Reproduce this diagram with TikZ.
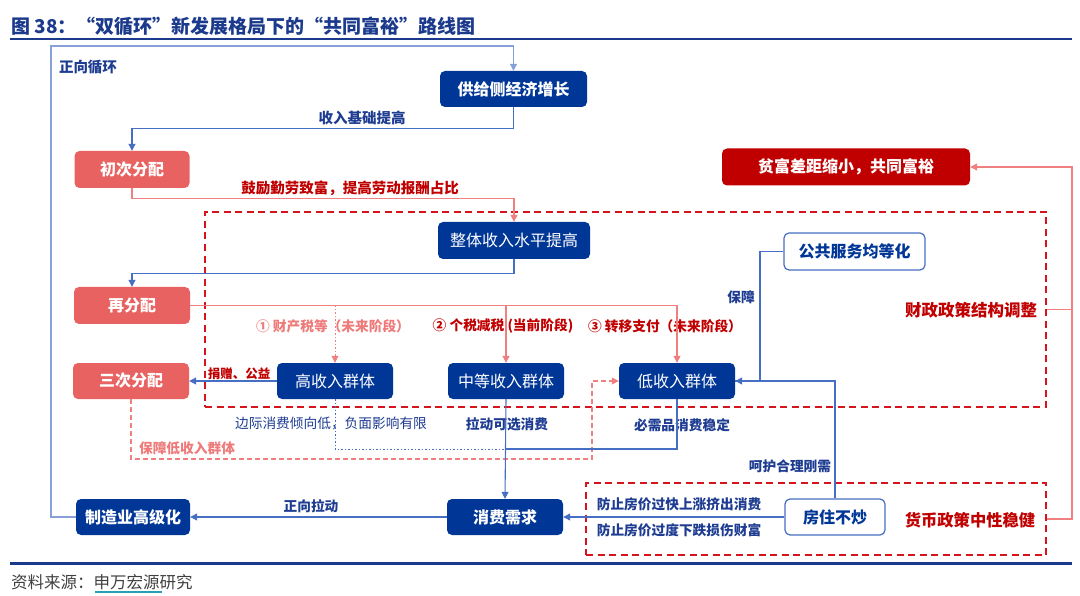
\documentclass[tikz,border=0pt]{standalone}
\usepackage{fontspec}
\setmainfont{Noto Sans CJK SC}
\usetikzlibrary{arrows.meta}
\definecolor{dkblue}{RGB}{0,54,150}
\definecolor{ttlblue}{RGB}{28,58,140}
\definecolor{lblue}{RGB}{30,60,145}
\definecolor{lnblue}{RGB}{70,110,195}
\definecolor{loopblue}{RGB}{135,160,215}
\definecolor{salmonred}{RGB}{232,98,98}
\definecolor{dkred}{RGB}{192,0,0}
\definecolor{cpink}{RGB}{240,128,128}
\definecolor{ltred}{RGB}{238,122,122}
\definecolor{dashred}{RGB}{214,20,30}
\definecolor{srcgrey}{RGB}{64,64,64}
\definecolor{tealc}{RGB}{40,160,180}
\begin{document}
\begin{tikzpicture}[x=1pt,y=-1pt,
  box/.style={rounded corners=5pt, minimum height=36pt, inner sep=0pt, font=\fontsize{16}{18}\selectfont},
  boxb/.style={box, font=\fontsize{16}{18}\selectfont\bfseries},
  bbox/.style={box, fill=dkblue, text=white},
  bboxb/.style={boxb, fill=dkblue, text=white},
  rbox/.style={boxb, fill=salmonred, text=white},
  obox/.style={boxb, draw=lnblue, line width=1.2pt, fill=white, text=dkblue},
  dashbox/.style={draw=dashred, line width=2pt, dash pattern=on 7pt off 4.5pt, inner sep=0pt},
  lab/.style={font=\fontsize{14.5}{16}\selectfont\bfseries, text=lblue, inner sep=0pt},
  slab/.style={font=\fontsize{13.7}{15}\selectfont\bfseries, text=lblue, inner sep=0pt},
  conn/.style={draw=lnblue, line width=1.1pt},
  pconn/.style={draw=cpink, line width=1.1pt},
  fdot/.style={line width=0.9pt, dash pattern=on 1.5pt off 2pt},
  arr/.style={-{Triangle[length=7pt,width=7pt]}}
]
\useasboundingbox (0,0) rectangle (1080,596);

% title and rules
\node[anchor=west, font=\fontsize{19}{22}\selectfont\bfseries, text=ttlblue, inner sep=0pt] (title) at (11,26) {图 38：“双循环”新发展格局下的“共同富裕”路线图};
\draw[ttlblue, line width=2pt] (10,39.5) -- (1072,39.5);
\draw[ttlblue, line width=2.6pt] (10,563.5) -- (1072,563.5);
\node[anchor=west, font=\fontsize{16.5}{18}\selectfont, text=srcgrey, inner sep=0pt] (src) at (11,582) {资料来源：申万宏源研究};
\draw[tealc, line width=1.2pt] (95,592) -- (162,592);

% dashed policy frames
\node[dashbox, minimum width=841pt, minimum height=195pt] (fiscal) at (625.5,309.5) {};
\node[dashbox, minimum width=460pt, minimum height=72pt] (monet) at (816,519) {};

% boxes
\node[bboxb, minimum width=147pt] (supply) at (513.5,89) {供给侧经济增长};
\node[rbox, minimum width=115pt, minimum height=37pt] (first) at (132,169.5) {初次分配};
\node[boxb, fill=dkred, text=white, minimum width=248pt, minimum height=37pt] (goal) at (846,167) {贫富差距缩小，共同富裕};
\node[bbox, minimum width=152pt, minimum height=37pt] (whole) at (514,240.5) {整体收入水平提高};
\node[obox, minimum width=141pt, minimum height=37pt] (pub) at (854.5,251.5) {公共服务均等化};
\node[rbox, minimum width=116pt, minimum height=37pt] (redis) at (132,305.5) {再分配};
\node[rbox, minimum width=116pt] (third) at (131,381) {三次分配};
\node[bbox, minimum width=116pt] (high) at (335,381) {高收入群体};
\node[bbox, minimum width=116pt] (mid) at (506,381) {中等收入群体};
\node[bbox, minimum width=116pt] (low) at (677,381) {低收入群体};
\node[bboxb, minimum width=116pt] (cons) at (505,517) {消费需求};
\node[bboxb, minimum width=114pt] (manu) at (133,517) {制造业高级化};
\node[obox, minimum width=100pt] (house) at (835,517) {房住不炒};

% labels
\node[lab] (lzx) at (88,67) {正向循环};
\node[lab] (lsr) at (362,118) {收入基础提高};
\node[lab, text=dkred] (lgl) at (350,188) {鼓励勤劳致富，提高劳动报酬占比};
\node[font=\fontsize{16.5}{18}\selectfont\bfseries, text=dkred, inner sep=0pt] (lfis) at (971,310) {财政政策结构调整};
\node[font=\fontsize{16.3}{18}\selectfont\bfseries, text=dkred, inner sep=0pt] (lmon) at (970,520) {货币政策中性稳健};
\node[slab] (lbz) at (741,297) {保障};
\node[slab, text=ltred] (l1) at (333,326) {① 财产税等（未来阶段）};
\node[slab, text=dkred] (l2) at (503,326) {② 个税减税 (当前阶段)};
\node[slab, text=dkred] (l3) at (665,326) {③ 转移支付（未来阶段）};
\node[font=\fontsize{12.5}{14}\selectfont\bfseries, text=dkred, inner sep=0pt] (ljz) at (239,374) {捐赠、公益};
\node[slab, font=\fontsize{13.7}{15}\selectfont] (lbj) at (331,423) {边际消费倾向低，负面影响有限};
\node[slab] (lld) at (507,424) {拉动可选消费};
\node[slab] (lbx) at (682,425) {必需品消费稳定};
\node[slab, text=ltred] (lbd) at (187,448) {保障低收入群体};
\node[slab] (lhh) at (790,466) {呵护合理刚需};
\node[slab] (lf1) at (679,504) {防止房价过快上涨挤出消费};
\node[slab] (lf2) at (679,530) {防止房价过度下跌损伤财富};
\node[slab] (lzl) at (311,506) {正向拉动};

% connectors
\coordinate (lc) at (51,46);
\draw[draw=loopblue, line width=1.1pt, arr] (manu.west) -| (lc) -| (supply.north);
\draw[conn, arr] (supply.south) -- ++(0,21) -| (first.north);
\draw[pconn, arr] (first.south) -- ++(0,10) -| (whole.north);
\draw[conn, arr] (whole.south) -- ++(0,14) -| (redis.north);
\draw[pconn, arr] (redis.east) -| (low.north);
\draw[pconn, arr] (redis.east -| mid.north) -- (mid.north);
\draw[pconn, fdot, arr] (redis.east -| high.north) -- (high.north);
\draw[conn, arr] (high.west) -- (third.east);
\coordinate (dj) at (592,459);
\draw[pconn, dash pattern=on 5pt off 3pt, arr] (third.south) |- (dj) |- (low.west);
\coordinate (jn) at (506,449);
\draw[conn, fdot] (high.south) |- (jn);
\draw[conn] (low.south) |- (jn);
\draw[conn, arr] (mid.south) -- (cons.north);
\draw[conn, arr] (cons.west) -- (manu.east);
\draw[conn, arr] (house.west) -- (cons.east);
\coordinate (pj) at (760,251.5);
\draw[conn] (pub.west) -- (pj) |- (low.east);
\draw[conn, arr] (house.north) |- (low.east);
\coordinate (rc) at (1072,167);
\draw[pconn, arr] (monet.east) -| (rc) -- (goal.east);
\draw[pconn] (fiscal.east) -- (fiscal.east -| rc);
\end{tikzpicture}
\end{document}
